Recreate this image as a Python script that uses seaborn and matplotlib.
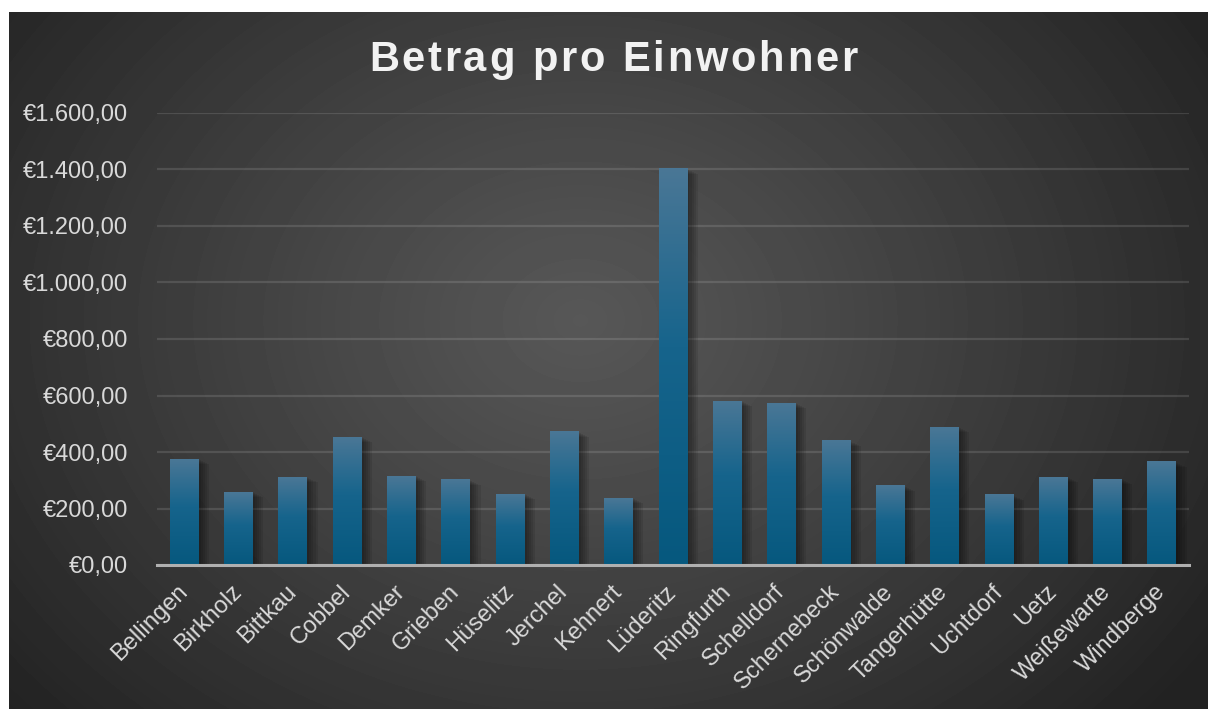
import numpy as np
import pandas as pd
import matplotlib
matplotlib.use("Agg")
import matplotlib.pyplot as plt
import seaborn as sns
from matplotlib import patheffects as pe
from matplotlib.font_manager import FontProperties
from matplotlib.ticker import FuncFormatter

# ---- data ----
towns = ["Bellingen", "Birkholz", "Bittkau", "Cobbel", "Demker", "Grieben",
         "Hüselitz", "Jerchel", "Kehnert", "Lüderitz", "Ringfurth", "Schelldorf",
         "Schernebeck", "Schönwalde", "Tangerhütte", "Uchtdorf", "Uetz",
         "Weißewarte", "Windberge"]
betrag = [375, 258, 311, 453, 315, 301, 251, 471, 237, 1402, 580, 573,
          439, 280, 488, 248, 311, 304, 365]
y_ticks = [0, 200, 400, 600, 800, 1000, 1200, 1400, 1600]
title = "Betrag pro Einwohner"

df = pd.DataFrame({"Ort": towns, "Betrag": betrag})

plt.rcParams["font.family"] = ["Liberation Sans", "DejaVu Sans"]

W, H = 1208, 709
fig = plt.figure(figsize=(W / 100, H / 100), dpi=100, facecolor="white")

# ---- background (radial gradient) ----
bx0, by0 = 9, 12
bw, bh = W - bx0, H - by0
bg = fig.add_axes([bx0 / W, 0, bw / W, bh / H], zorder=-10)
bg.set_axis_off()
yy, xx = np.mgrid[0:bh, 0:bw]
cx, cy = 580 - bx0, 320 - by0
r = np.sqrt(((xx - cx) / 760.0) ** 2 + ((yy - cy) / 600.0) ** 2)
r = np.clip(r, 0, 1)
val = 0x57 - (0x57 - 0x22) * r ** 1.1
bg.imshow(val, cmap="gray", vmin=0, vmax=255, aspect="auto",
          interpolation="bilinear", extent=[0, 1, 0, 1])
bg.set_xlim(0, 1)
bg.set_ylim(0, 1)

# ---- main axes ----
ax = fig.add_axes([157 / W, 1 - 565 / H, 1032 / W, 452 / H], zorder=1)
ax.set_facecolor("none")

sns.barplot(data=df, x="Ort", y="Betrag", ax=ax, color="#0b5f86",
            width=0.53, saturation=1, errorbar=None)

# gradient for bars
stops = np.array([[74, 119, 150], [22, 100, 140], [6, 88, 126]]) / 255.0
t = np.linspace(0, 1, 256)
pos = [0.0, 0.45, 1.0]
grad = np.stack([np.interp(t, pos, stops[:, c]) for c in range(3)], axis=1)
grad_img = grad[:, None, :]

shadow = [pe.SimplePatchShadow(offset=(o, -o / 2), shadow_rgbFace="black", alpha=0.09)
          for o in (1.5, 3, 4.5, 6, 7.5)]
for p in ax.patches:
    x, w, h = p.get_x(), p.get_width(), p.get_height()
    p.set_path_effects(shadow + [pe.Normal()])
    p.set_zorder(1.5)
    ax.imshow(grad_img, extent=[x, x + w, 0, h], aspect="auto",
              zorder=1.6, interpolation="bilinear")

ax.set_xlim(-0.5, len(towns) - 0.5)
ax.set_ylim(0, 1600)
ax.set_aspect("auto")
ax.set_yticks(y_ticks)


def euro(v, _):
    s = f"{v:,.2f}".replace(",", "X").replace(".", ",").replace("X", ".")
    return "€" + s


ax.yaxis.set_major_formatter(FuncFormatter(euro))
ax.set_xlabel("")
ax.set_ylabel("")

ax.yaxis.grid(True, color="white", alpha=0.12, lw=1.6)
ax.xaxis.grid(False)
ax.set_axisbelow(True)
for s in ["left", "right", "top"]:
    ax.spines[s].set_visible(False)
ax.spines["bottom"].set_color("#b0b0b0")
ax.spines["bottom"].set_linewidth(2.2)
ax.spines["bottom"].set_zorder(3)

ax.tick_params(axis="both", length=0, labelcolor="#d9d9d9", labelsize=17)
ax.tick_params(axis="y", pad=21)
ax.tick_params(axis="x", pad=17)
for lab in ax.get_xticklabels():
    lab.set_rotation(45)
    lab.set_ha("right")
    lab.set_va("center")
    lab.set_rotation_mode("anchor")

# ---- title with letter spacing ----
fp = FontProperties(family="Liberation Sans", weight="bold", size=30)
renderer = fig.canvas.get_renderer()
wI = renderer.get_text_width_height_descent("I", fp, ismath=False)[0]


def adv(s):
    return renderer.get_text_width_height_descent(s + "I", fp, ismath=False)[0] - wI


spacing = 2.8
n = len(title)
positions = [adv(title[:i]) for i in range(n)]
total = adv(title) + spacing * (n - 1)
x0 = 613 - total / 2
for i, ch in enumerate(title):
    if ch == " ":
        continue
    fig.text((x0 + positions[i] + i * spacing) / W, 1 - 71 / H, ch,
             fontproperties=fp, color="#f2f2f2", ha="left", va="baseline")

fig.savefig("out.png", dpi=100, facecolor="white")
